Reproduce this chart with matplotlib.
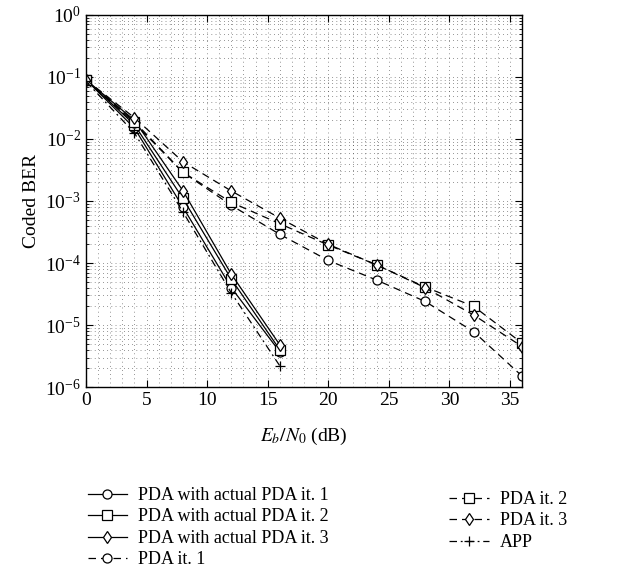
import matplotlib
matplotlib.use("Agg")
import matplotlib.pyplot as plt
import numpy as np
from matplotlib.ticker import MultipleLocator, LogLocator, NullFormatter

plt.rcParams['font.family'] = ['Liberation Serif', 'DejaVu Serif']
plt.rcParams['mathtext.fontset'] = 'stix'

snr_short = [0, 4, 8, 12, 16]
snr_long = [0, 4, 8, 12, 16, 20, 24, 28, 32, 36]

actual_it1 = [0.09, 0.015, 8.0e-4, 4.0e-5, 3.7e-6]
actual_it2 = [0.09, 0.017, 1.1e-3, 5.5e-5, 4.0e-6]
actual_it3 = [0.09, 0.020, 1.47e-3, 6.6e-5, 4.8e-6]
pda_it1 = [0.09, 0.018, 2.9e-3, 8.5e-4, 2.9e-4, 1.1e-4, 5.3e-5, 2.4e-5, 7.8e-6, 1.5e-6]
pda_it2 = [0.09, 0.019, 2.9e-3, 9.5e-4, 4.3e-4, 1.95e-4, 9.3e-5, 4.1e-5, 2.0e-5, 5.1e-6]
pda_it3 = [0.09, 0.022, 4.3e-3, 1.45e-3, 5.3e-4, 2.0e-4, 9.3e-5, 4.0e-5, 1.45e-5, 4.5e-6]
app = [0.085, 0.0125, 6.7e-4, 3.3e-5, 2.2e-6]

fig = plt.figure(figsize=(6.18, 5.71), dpi=100)
ax = fig.add_axes([0.139, 0.322, 0.706, 0.652])

mk = dict(color='black', lw=0.9, ms=6.5, mfc='white', mew=0.9)
dash = (0, (6, 4))
dashdot = (0, (6, 3, 1.5, 3))
h1, = ax.semilogy(snr_short, actual_it1, ls='-', marker='o', label='PDA with actual PDA it. 1', **mk)
h2, = ax.semilogy(snr_short, actual_it2, ls='-', marker='s', label='PDA with actual PDA it. 2', **mk)
h3, = ax.semilogy(snr_short, actual_it3, ls='-', marker='d', label='PDA with actual PDA it. 3', **mk)
h4, = ax.semilogy(snr_long, pda_it1, ls=dash, marker='o', label='PDA it. 1', **mk)
h5, = ax.semilogy(snr_long, pda_it2, ls=dash, marker='s', label='PDA it. 2', **mk)
h6, = ax.semilogy(snr_long, pda_it3, ls=dash, marker='d', label='PDA it. 3', **mk)
h7, = ax.semilogy(snr_short, app, ls=dashdot, marker='+', label='APP', **mk)

ax.set_xlim(0, 36)
ax.set_ylim(1e-6, 1)
ax.xaxis.set_major_locator(MultipleLocator(5))
ax.xaxis.set_minor_locator(MultipleLocator(1))
ax.yaxis.set_major_locator(LogLocator(base=10, numticks=10))
ax.yaxis.set_minor_locator(LogLocator(base=10, subs=np.arange(2, 10), numticks=20))
ax.yaxis.set_minor_formatter(NullFormatter())
ax.grid(True, which='both', linestyle=(0, (1, 5)), color='#333333', lw=0.5)
ax.tick_params(which='both', direction='in', top=True, right=True, labelsize=14)
ax.tick_params(which='major', length=5)
ax.tick_params(which='minor', length=2.5)
ax.tick_params(axis='x', which='minor', length=0)
for s in ax.spines.values():
    s.set_linewidth(1.0)

ax.set_xlabel(r'$E_b/N_0$ (dB)', fontsize=14, labelpad=12)
ax.set_ylabel('Coded BER', fontsize=14, labelpad=4)

leg_kw = dict(frameon=False, fontsize=13, handlelength=2.2, handletextpad=0.6,
              labelspacing=0.25, borderaxespad=0)
fig.legend(handles=[h1, h2, h3, h4], loc='upper left',
           bbox_to_anchor=(0.13, 0.16), **leg_kw)
fig.legend(handles=[h5, h6, h7], loc='upper left',
           bbox_to_anchor=(0.715, 0.153), **leg_kw)

fig.savefig('out.png', dpi=100)
